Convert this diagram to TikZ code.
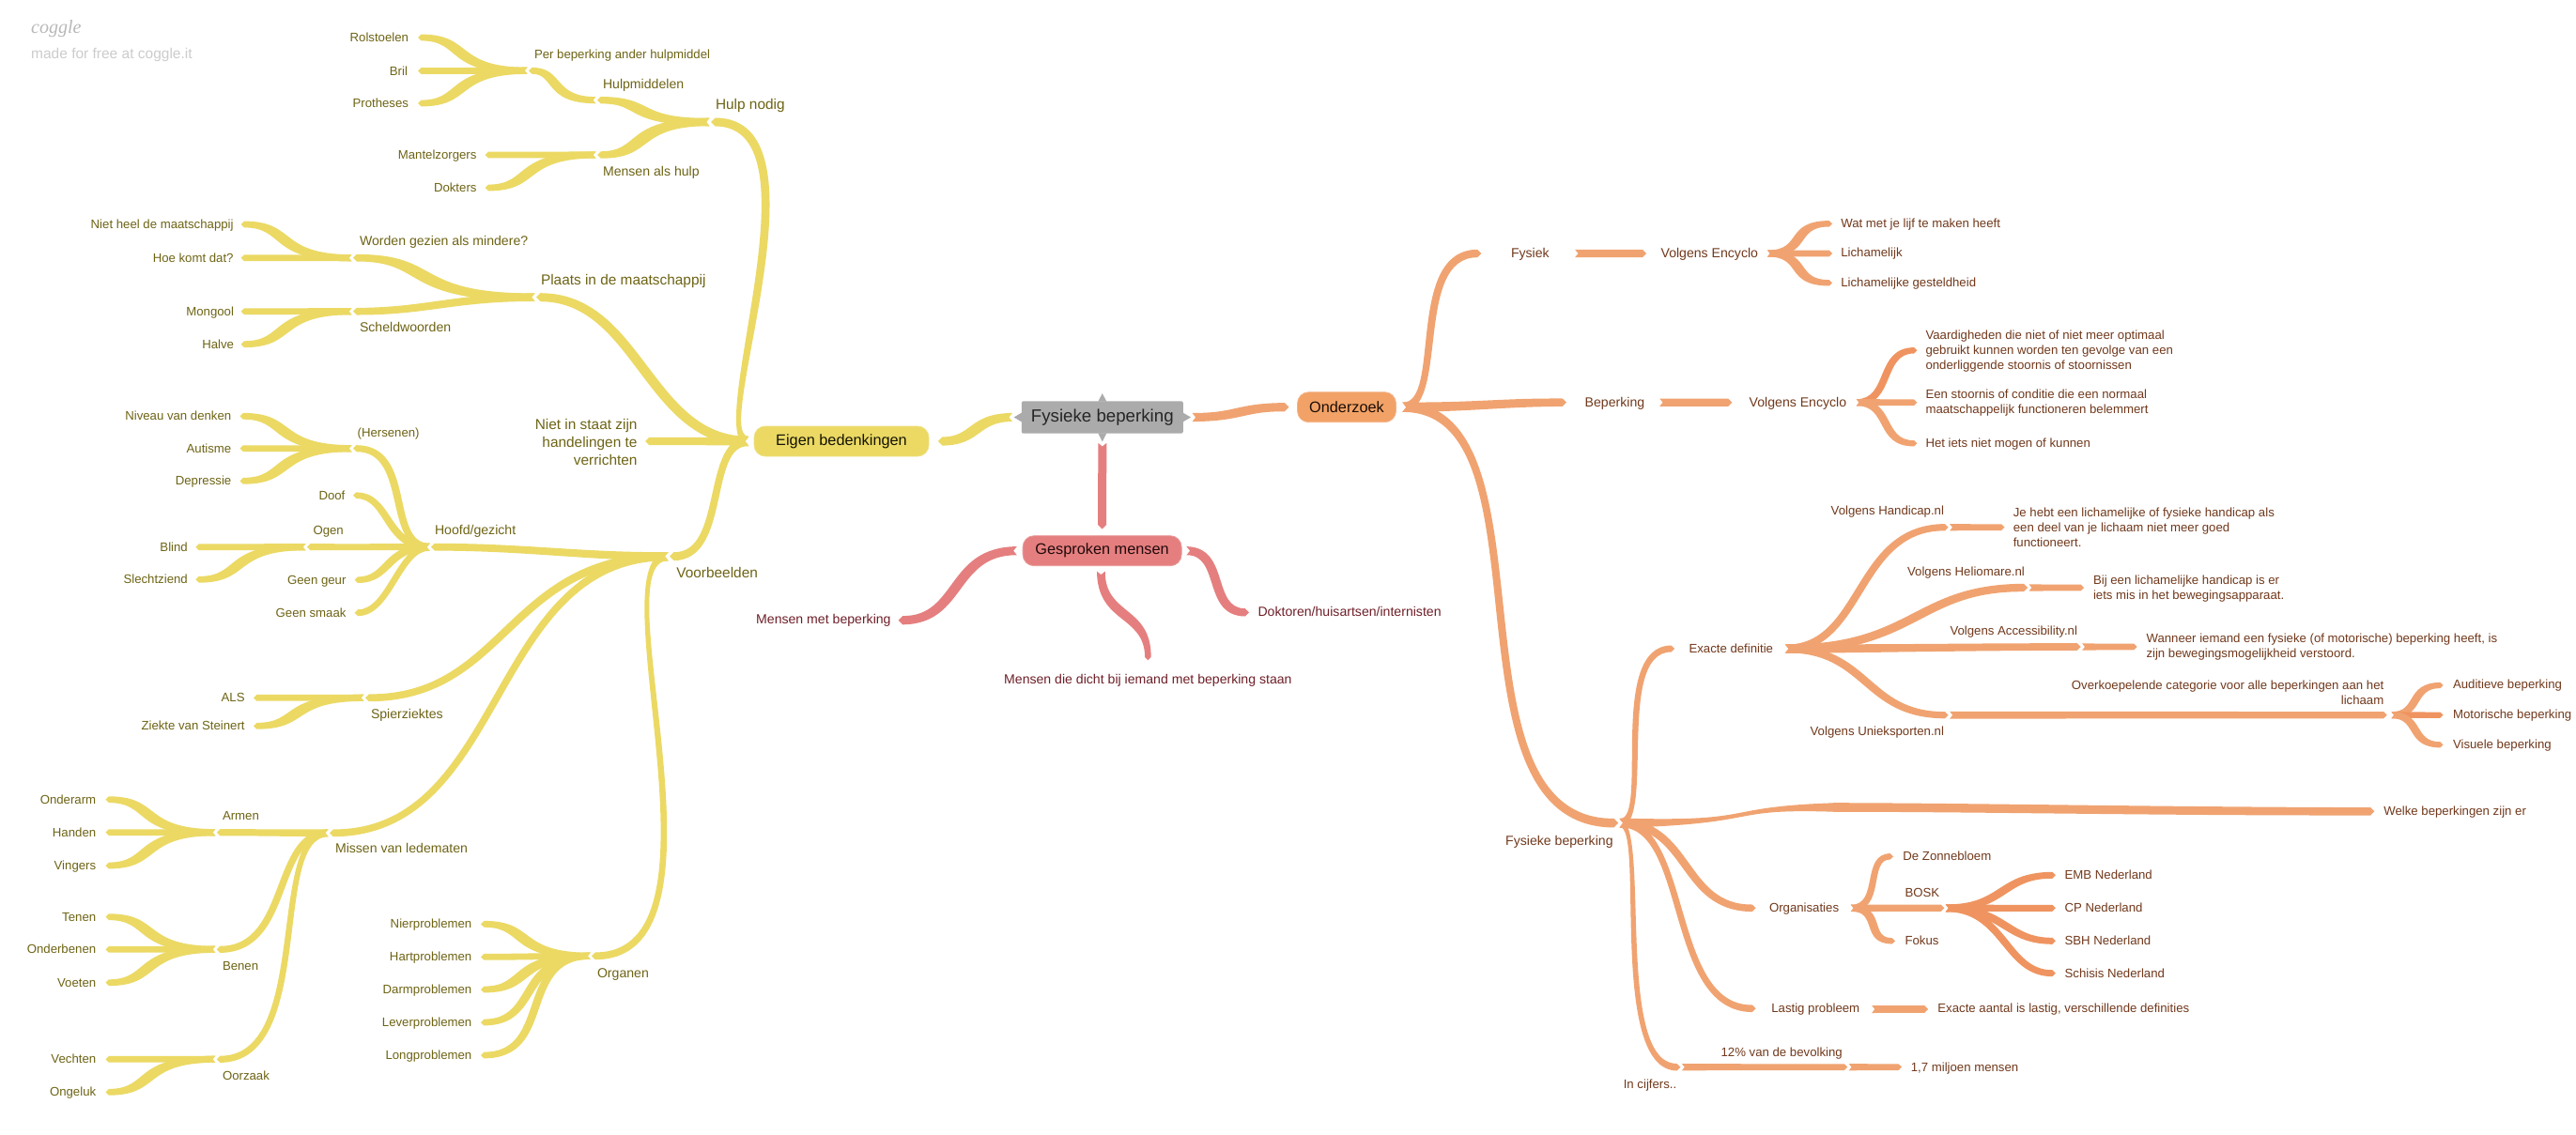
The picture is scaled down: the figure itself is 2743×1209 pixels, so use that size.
\documentclass[tikz,border=0pt]{standalone}
\usepackage{fontspec}
\setmainfont{Liberation Sans}
\newfontfamily\logofont{Liberation Serif}
\usetikzlibrary{calc}
\definecolor{ybr}{HTML}{EBD964}
\definecolor{ytx}{HTML}{6E6415}
\definecolor{obr}{HTML}{F0A371}
\definecolor{odk}{HTML}{EF9460}
\definecolor{opl}{HTML}{F2A266}
\definecolor{otx}{HTML}{71391C}
\definecolor{rbr}{HTML}{E57F7F}
\definecolor{rtx}{HTML}{6E1F28}
\definecolor{gbr}{HTML}{ABABAB}
\tikzset{
  base/.style={inner sep=0pt,outer sep=0pt,text height=.72em,text depth=.2em,yshift=-2pt},
  multi/.style={inner sep=0pt,outer sep=0pt,yshift=-1pt},
  fa/.style={font=\fontsize{13.2}{15.8}\selectfont},
  fb/.style={font=\fontsize{14.1}{17}\selectfont},
  fc/.style={font=\fontsize{15.4}{18.7}\selectfont},
  yt2/.style={base,fc,text=ytx},
  yt3/.style={base,fb,text=ytx},
  yt4/.style={base,fa,text=ytx},
  ym/.style={multi,fc,text=ytx,align=right},
  ot3/.style={base,fb,text=otx},
  ot4/.style={base,fa,text=otx},
  oml/.style={multi,fa,text=otx,align=left},
  omr/.style={multi,fa,text=otx,align=right},
  rt4/.style={base,fb,text=rtx},
  pillbox/.style={rounded corners=12pt,inner sep=0pt,minimum height=32pt,
    font=\fontsize{16.3}{19}\selectfont,line width=.8pt},
}
\makeatletter
\newcommand\getxy[3]{\pgfpointanchor{#1}{center}\edef\tmpx{\the\pgf@x}\edef\tmpy{\the\pgf@y}%
  \pgfmathsetmacro#2{\tmpx}\pgfmathsetmacro#3{\tmpy}}
\makeatother
% filled, tapered link: colour, half widths (start, middle, end)
\newcommand\linkcore[4]{%
  \pgfmathsetmacro\lkA{max(veclen(\cax-\ax,\cay-\ay),.01)}%
  \pgfmathsetmacro\lkB{max(veclen(\cbx-\cax,\cby-\cay),.01)}%
  \pgfmathsetmacro\lkC{max(veclen(\bx-\cbx,\by-\cby),.01)}%
  \pgfmathsetmacro\uax{(\cax-\ax)/\lkA}\pgfmathsetmacro\uay{(\cay-\ay)/\lkA}%
  \pgfmathsetmacro\ubx{(\cbx-\cax)/\lkB}\pgfmathsetmacro\uby{(\cby-\cay)/\lkB}%
  \pgfmathsetmacro\ucx{(\bx-\cbx)/\lkC}\pgfmathsetmacro\ucy{(\by-\cby)/\lkC}%
  \pgfmathsetmacro\dA{max(1+\uax*\ubx+\uay*\uby,.4)}%
  \pgfmathsetmacro\dB{max(1+\ubx*\ucx+\uby*\ucy,.4)}%
  \pgfmathsetmacro\ofax{#3*(-\uay-\uby)/\dA}\pgfmathsetmacro\ofay{#3*(\uax+\ubx)/\dA}%
  \pgfmathsetmacro\ofbx{#3*(-\uby-\ucy)/\dB}\pgfmathsetmacro\ofby{#3*(\ubx+\ucx)/\dB}%
  \pgfmathsetmacro\sx{\ax+1.5*\uax}\pgfmathsetmacro\sy{\ay+1.5*\uay}%
  \pgfmathsetmacro\ex{\bx-#4*\ucx}\pgfmathsetmacro\ey{\by-#4*\ucy}%
  \pgfmathsetmacro\nx{\sx+#2*.8*\uax}\pgfmathsetmacro\ny{\sy+#2*.8*\uay}%
  \pgfmathsetmacro\pax{\sx-#2*\uay}\pgfmathsetmacro\pay{\sy+#2*\uax}%
  \pgfmathsetmacro\qax{\sx+#2*\uay}\pgfmathsetmacro\qay{\sy-#2*\uax}%
  \pgfmathsetmacro\pbx{\ex-#4*\ucy}\pgfmathsetmacro\pby{\ey+#4*\ucx}%
  \pgfmathsetmacro\qbx{\ex+#4*\ucy}\pgfmathsetmacro\qby{\ey-#4*\ucx}%
  \pgfmathsetmacro\cpax{\cax+\ofax}\pgfmathsetmacro\cpay{\cay+\ofay}%
  \pgfmathsetmacro\cpbx{\cbx+\ofbx}\pgfmathsetmacro\cpby{\cby+\ofby}%
  \pgfmathsetmacro\cqax{\cax-\ofax}\pgfmathsetmacro\cqay{\cay-\ofay}%
  \pgfmathsetmacro\cqbx{\cbx-\ofbx}\pgfmathsetmacro\cqby{\cby-\ofby}%
  \fill[#1] (\pax pt,\pay pt) .. controls (\cpax pt,\cpay pt) and (\cpbx pt,\cpby pt) .. (\pbx pt,\pby pt)
    -- (\bx pt,\by pt) -- (\qbx pt,\qby pt)
    .. controls (\cqbx pt,\cqby pt) and (\cqax pt,\cqay pt) .. (\qax pt,\qay pt)
    -- (\nx pt,\ny pt) -- cycle;}
% horizontal tangents, automatic control points
\newcommand\fan[6]{\getxy{#2}{\ax}{\ay}\getxy{#3}{\bx}{\by}%
  \pgfmathsetmacro\rdy{abs(\by-\ay)/abs(\bx-\ax)}%
  \pgfmathsetmacro\tone{ifthenelse(\rdy<.12,.45,ifthenelse(\rdy<.45,.72,.8))}%
  \pgfmathsetmacro\ttwo{ifthenelse(\rdy<.12,.6,ifthenelse(\rdy<.45,.55,.45))}%
  \pgfmathsetmacro\cax{\ax+\tone*(\bx-\ax)}\pgfmathsetmacro\cbx{\ax+\ttwo*(\bx-\ax)}%
  \edef\cay{\ay}\edef\cby{\by}\linkcore{#1}{#4}{#5}{#6}}
% leaf fan
\newcommand\leaf[3]{\fan{#1}{#2}{#3}{3.6}{3.4}{3.4}}
% horizontal tangents, given control x
\newcommand\lnk[8]{\getxy{#2}{\ax}{\ay}\getxy{#3}{\bx}{\by}%
  \pgfmathsetmacro\cax{#7}\pgfmathsetmacro\cbx{#8}%
  \edef\cay{\ay}\edef\cby{\by}\linkcore{#1}{#4}{#5}{#6}}
% vertical tangents, given control y (picture value)
\newcommand\lnv[8]{\getxy{#2}{\ax}{\ay}\getxy{#3}{\bx}{\by}%
  \pgfmathsetmacro\cay{-(#7)}\pgfmathsetmacro\cby{-(#8)}%
  \edef\cax{\ax}\edef\cbx{\bx}\linkcore{#1}{#4}{#5}{#6}}
% point + its label
\newcommand\nd[8]{\coordinate (#1) at (#2,#3); \node[#7,anchor=#4] (#1t) at (#5,#6) {#8};}
\begin{document}
\begin{tikzpicture}[x=1pt,y=-1pt]
\fill[white] (0,0) rectangle (2743,1209);
\useasboundingbox (0,0) rectangle (2743,1209);

\node[anchor=west,inner sep=0pt,text=black!28,font=\logofont\itshape\fontsize{20}{24}\selectfont] (logo) at (33,31) {coggle};
\node[anchor=west,inner sep=0pt,text=black!20,font=\fontsize{15.5}{18}\selectfont] (made) at (33,58.5) {made for free at coggle.it};

% central nodes
\node[fill=gbr,rounded corners=2pt,minimum width=172pt,minimum height=34.4pt,inner sep=0pt,
  text=black!85,font=\fontsize{18.7}{22}\selectfont] (root) at (1173.8,444.5) {Fysieke beperking};
\fill[gbr] ($(root.north)+(-4.5,0.5)$) -- ($(root.north)+(0,-8)$) -- ($(root.north)+(4.5,0.5)$) -- cycle;
\fill[gbr] ($(root.south)+(-4.5,-0.5)$) -- ($(root.south)+(0,8.5)$) -- ($(root.south)+(4.5,-0.5)$) -- cycle;
\fill[gbr] ($(root.west)+(0.5,-5)$) -- ($(root.west)+(-8,0)$) -- ($(root.west)+(0.5,5)$) -- cycle;
\fill[gbr] ($(root.east)+(-0.5,-5)$) -- ($(root.east)+(8,0)$) -- ($(root.east)+(-0.5,5)$) -- cycle;
\node[pillbox,fill=ybr,draw=ybr!80!white,minimum width=186pt,text=black!80!ytx] (eigen) at (896,470) {Eigen bedenkingen};
\node[pillbox,fill=opl,draw=obr!80!white,minimum width=105pt,text=black!75!otx] (onder) at (1434,433.7) {Onderzoek};
\node[pillbox,fill=rbr,draw=rbr!80!white,minimum width=169pt,text=black!70!rtx] (gespr) at (1173.6,586.7) {Gesproken mensen};

\coordinate (rootL) at ($(root.west)+(-8,0)$);
\coordinate (rootR) at ($(root.east)+(8,0)$);
\coordinate (rootB) at ($(root.south)+(0,8.5)$);
\coordinate (eigenL) at ($(eigen.west)+(-4,0)$);
\coordinate (eigenR) at ($(eigen.east)+(9.5,0)$);
\coordinate (onderL) at ($(onder.west)+(-8.6,0)$);
\coordinate (onderR) at ($(onder.east)+(5,0)$);
\coordinate (gesprT) at ($(gespr.north)+(0,-6.7)$);
\coordinate (gesprL) at ($(gespr.west)+(-4.4,0)$);
\coordinate (gesprR) at ($(gespr.east)+(3.4,0)$);
\coordinate (gesprB) at ($(gespr.south)+(-1.2,4)$);

% yellow labels
\nd{hulp}{757}{130}{west}{762}{112}{yt2}{Hulp nodig}
\nd{hmid}{636}{106.7}{west}{642}{90}{yt3}{Hulpmiddelen}
\nd{perb}{563}{75.3}{west}{569}{58.3}{yt4}{Per beperking ander hulpmiddel}
\nd{rols}{445}{40}{east}{435}{40}{yt4}{Rolstoelen}
\nd{bril}{445}{75.5}{east}{434}{75.5}{yt4}{Bril}
\nd{prot}{445}{110}{east}{435}{110}{yt4}{Protheses}
\nd{mals}{636}{165}{west}{642}{183}{yt3}{Mensen als hulp}
\nd{mant}{516.6}{165}{east}{507.5}{165}{yt4}{Mantelzorgers}
\nd{dokt}{516.6}{200}{east}{507.5}{200}{yt4}{Dokters}
\nd{plts}{571}{316.7}{west}{576}{299}{yt2}{Plaats in de maatschappij}
\nd{word}{376}{274.7}{west}{383}{257}{yt3}{Worden gezien als mindere?}
\nd{nhm}{256.6}{239}{east}{248.6}{239}{yt4}{Niet heel de maatschappij}
\nd{hkd}{256.6}{274.7}{east}{248.6}{274.7}{yt4}{Hoe komt dat?}
\nd{sche}{376}{331.7}{west}{383}{349.3}{yt3}{Scheldwoorden}
\nd{mong}{256.6}{331.7}{east}{249}{331.7}{yt4}{Mongool}
\nd{halv}{256.6}{366.7}{east}{249}{366.7}{yt4}{Halve}
\nd{nsta}{687}{470}{east}{678.5}{470}{ym}{Niet in staat zijn\\handelingen te\\verrichten}
\nd{voor}{713}{592.7}{west}{720.4}{611}{yt2}{Voorbeelden}
\nd{hoof}{459}{582.7}{west}{463}{565}{yt3}{Hoofd/gezicht}
\nd{hers}{376}{477.7}{west}{380.6}{460.7}{yt4}{(Hersenen)}
\nd{nivd}{255.5}{443.3}{east}{246.3}{443.3}{yt4}{Niveau van denken}
\nd{auti}{255.5}{477.7}{east}{246.3}{477.7}{yt4}{Autisme}
\nd{depr}{255.5}{512.3}{east}{246.3}{512.3}{yt4}{Depressie}
\nd{doof}{376}{527.7}{east}{367.4}{527.7}{yt4}{Doof}
\nd{ogen}{327}{582.7}{west}{333.5}{565.3}{yt4}{Ogen}
\nd{geur}{377.7}{617.7}{east}{368.5}{617.7}{yt4}{Geen geur}
\nd{smaa}{377.7}{652.7}{east}{368.5}{652.7}{yt4}{Geen smaak}
\nd{blin}{208.4}{582.7}{east}{199.8}{582.7}{yt4}{Blind}
\nd{slec}{208.4}{617.3}{east}{199.8}{617.3}{yt4}{Slechtziend}
\nd{spie}{389}{743.3}{west}{395}{761}{yt3}{Spierziektes}
\nd{als}{270}{743.3}{east}{260.6}{743.3}{yt4}{ALS}
\nd{stei}{270}{773.3}{east}{260.6}{773.3}{yt4}{Ziekte van Steinert}
\nd{miss}{351}{887.3}{west}{357}{904.3}{yt3}{Missen van ledematen}
\nd{arme}{230.8}{886.7}{west}{237}{869.3}{yt4}{Armen}
\nd{bene}{230.8}{1011.3}{west}{237}{1029}{yt4}{Benen}
\nd{oorz}{230.8}{1128.3}{west}{237}{1146}{yt4}{Oorzaak}
\nd{onda}{112.5}{851.7}{east}{102.2}{851.7}{yt4}{Onderarm}
\nd{hand}{112.5}{886.7}{east}{102.2}{886.7}{yt4}{Handen}
\nd{ving}{112.5}{922}{east}{102.2}{922}{yt4}{Vingers}
\nd{tene}{112.5}{976.7}{east}{102.2}{976.7}{yt4}{Tenen}
\nd{ondb}{112.5}{1011.3}{east}{102.2}{1011.3}{yt4}{Onderbenen}
\nd{voet}{112.5}{1046.7}{east}{102.2}{1046.7}{yt4}{Voeten}
\nd{vech}{112.5}{1128.3}{east}{102.2}{1128.3}{yt4}{Vechten}
\nd{onge}{112.5}{1163.3}{east}{102.2}{1163.3}{yt4}{Ongeluk}
\nd{orga}{630}{1018.3}{west}{636}{1037}{yt3}{Organen}
\nd{nier}{512}{984.3}{east}{502.3}{984.3}{yt4}{Nierproblemen}
\nd{hart}{512}{1019.3}{east}{502.3}{1019.3}{yt4}{Hartproblemen}
\nd{darm}{512}{1054}{east}{502.3}{1054}{yt4}{Darmproblemen}
\nd{leve}{512}{1089}{east}{502.3}{1089}{yt4}{Leverproblemen}
\nd{long}{512}{1124}{east}{502.3}{1124}{yt4}{Longproblemen}

% red labels
\nd{mmet}{956.6}{660.7}{east}{948.6}{660}{rt4}{Mensen met beperking}
\nd{doct}{1330}{652.3}{west}{1339.5}{652}{rt4}{Doktoren/huisartsen/internisten}
\nd{dich}{1222.4}{703.3}{center}{1222.4}{724.3}{rt4}{Mensen die dicht bij iemand met beperking staan}

% orange labels
\nd{fsk}{1577.4}{270}{west}{1609}{270}{ot3}{Fysiek}
\coordinate (ve1a) at (1675.6,270);
\nd{ve1}{1753}{270}{west}{1768.6}{270}{ot3}{Volgens Encyclo}
\coordinate (ve1b) at (1880.5,270);
\nd{wat}{1951}{238.3}{west}{1960.3}{238.3}{ot4}{Wat met je lijf te maken heeft}
\nd{lich}{1951}{270}{west}{1960.3}{269.3}{ot4}{Lichamelijk}
\nd{gest}{1951}{301.3}{west}{1960.3}{301.3}{ot4}{Lichamelijke gesteldheid}
\nd{bep}{1668}{428.7}{west}{1687.7}{428.7}{ot3}{Beperking}
\coordinate (ve2a) at (1765.7,428.7);
\nd{ve2}{1844.4}{428.7}{west}{1862.7}{428.7}{ot3}{Volgens Encyclo}
\coordinate (ve2b) at (1975.3,428.7);
\nd{vaar}{2041.3}{373.3}{west}{2050.5}{373.3}{oml}{Vaardigheden die niet of niet meer optimaal\\gebruikt kunnen worden ten gevolge van een\\onderliggende stoornis of stoornissen}
\nd{stoo}{2041.3}{428.7}{west}{2050.5}{428}{oml}{Een stoornis of conditie die een normaal\\maatschappelijk functioneren belemmert}
\nd{iets}{2041.3}{472.3}{west}{2050.5}{472.3}{ot4}{Het iets niet mogen of kunnen}
\nd{fb}{1723.2}{876.7}{east}{1717.6}{895.7}{ot3}{Fysieke beperking}
\nd{exa}{1783.2}{691}{west}{1798.5}{691}{ot4}{Exacte definitie}
\coordinate (exaR) at (1899.6,691);
\nd{vhan}{2074.6}{561.7}{east}{2070}{544}{ot4}{Volgens Handicap.nl}
\nd{jeh}{2134.5}{561.7}{west}{2143.8}{561}{oml}{Je hebt een lichamelijke of fysieke handicap als\\een deel van je lichaam niet meer goed\\functioneert.}
\nd{vhel}{2159}{626}{east}{2155.8}{609}{ot4}{Volgens Heliomare.nl}
\nd{bij}{2219}{626}{west}{2229}{625.7}{oml}{Bij een lichamelijke handicap is er\\iets mis in het bewegingsapparaat.}
\nd{vacc}{2215.6}{689}{east}{2212}{671.7}{ot4}{Volgens Accessibility.nl}
\nd{wann}{2275.5}{689}{west}{2285.5}{688}{oml}{Wanneer iemand een fysieke (of motorische) beperking heeft, is\\zijn bewegingsmogelijkheid verstoord.}
\nd{vuni}{2074.6}{761.7}{east}{2070}{779.3}{ot4}{Volgens Unieksporten.nl}
\nd{over}{2541.7}{761.7}{east}{2538.3}{737}{omr}{Overkoepelende categorie voor alle beperkingen aan het\\lichaam}
\coordinate (overR) at (2545,761.7);
\nd{audi}{2601.5}{730}{west}{2612}{729.3}{ot4}{Auditieve beperking}
\nd{moto}{2601.5}{761.7}{west}{2612}{761.3}{ot4}{Motorische beperking}
\nd{visu}{2601.5}{793.3}{west}{2612}{793}{ot4}{Visuele beperking}
\coordinate (way) at (1950,860);
\coordinate (wayb) at (1960,860);
\nd{welk}{2528.3}{864.3}{west}{2538.3}{864.3}{ot4}{Welke beperkingen zijn er}
\nd{orgs}{1869.6}{967.3}{west}{1884}{967.3}{ot4}{Organisaties}
\coordinate (orgR) at (1969.3,967.3);
\nd{zonn}{2016}{912.3}{west}{2026.4}{912.3}{ot4}{De Zonnebloem}
\nd{bosk}{2070.3}{967.3}{west}{2028.5}{950.7}{ot4}{BOSK}
\nd{foku}{2018}{1002.3}{west}{2028.5}{1002.3}{ot4}{Fokus}
\nd{emb}{2188.8}{932.3}{west}{2198.6}{932.3}{ot4}{EMB Nederland}
\nd{cpn}{2188.8}{967.3}{west}{2198.6}{967.3}{ot4}{CP Nederland}
\nd{sbh}{2188.8}{1002.3}{west}{2198.6}{1002.3}{ot4}{SBH Nederland}
\nd{schi}{2188.8}{1036.7}{west}{2198.6}{1036.7}{ot4}{Schisis Nederland}
\nd{last}{1869.6}{1074.3}{west}{1886.3}{1074.3}{ot4}{Lastig probleem}
\coordinate (lastR) at (1991.6,1075);
\nd{aant}{2053}{1075}{west}{2063.4}{1074.3}{ot4}{Exacte aantal is lastig, verschillende definities}
\nd{cijf}{1789.4}{1136.7}{west}{1728.8}{1155}{ot4}{In cijfers..}
\nd{pct}{1967.2}{1136.7}{west}{1832.6}{1120.7}{ot4}{12\% van de bevolking}
\nd{milj}{2025}{1136.7}{west}{2034.8}{1136.7}{ot4}{1,7 miljoen mensen}

% root links
\lnk{ybr}{rootL}{eigenR}{4.6}{4.2}{4.6}{1036}{1040}
\lnk{obr}{rootR}{onderL}{4.6}{4.2}{4.6}{1320}{1320}
\lnv{rbr}{rootB}{gesprT}{4.5}{4.5}{4.5}{495}{535}
\lnk{rbr}{gesprL}{mmet}{4.6}{4}{4.6}{1012}{1024}
\lnk{rbr}{gesprR}{doct}{4.6}{3.8}{4.2}{1305}{1285}
\lnv{rbr}{gesprB}{dich}{4.4}{3.8}{3.2}{660}{650}

% yellow links
\lnk{ybr}{eigenL}{hulp}{5.2}{4.4}{4.5}{750}{885}
\lnk{ybr}{eigenL}{plts}{5.2}{4.4}{4.5}{690}{680}
\fan{ybr}{eigenL}{nsta}{4.4}{4.2}{4.2}
\lnk{ybr}{eigenL}{voor}{5.2}{3.4}{4.5}{750}{775}
\fan{ybr}{hulp}{hmid}{4.3}{4}{3.7}
\fan{ybr}{hulp}{mals}{4.3}{4}{3.7}
\fan{ybr}{hmid}{perb}{3.6}{3.3}{3.4}
\leaf{ybr}{perb}{rols}
\leaf{ybr}{perb}{bril}
\leaf{ybr}{perb}{prot}
\leaf{ybr}{mals}{mant}
\leaf{ybr}{mals}{dokt}
\fan{ybr}{plts}{word}{4.3}{4}{3.8}
\fan{ybr}{plts}{sche}{4.3}{4}{3.8}
\leaf{ybr}{word}{nhm}
\leaf{ybr}{word}{hkd}
\leaf{ybr}{sche}{mong}
\leaf{ybr}{sche}{halv}
\lnk{ybr}{voor}{hoof}{4.6}{3.9}{3.9}{620}{560}
\lnk{ybr}{voor}{spie}{4.6}{3.2}{3.9}{540}{540}
\lnk{ybr}{voor}{miss}{4.6}{3.0}{3.9}{520}{540}
\lnk{ybr}{voor}{orga}{4.6}{3.3}{3.9}{635}{790}
\lnk{ybr}{hoof}{hers}{4}{3.3}{3.5}{410}{440}
\lnk{ybr}{hoof}{doof}{4}{3.1}{3.3}{410}{415}
\fan{ybr}{hoof}{ogen}{3.7}{3.4}{3.5}
\lnk{ybr}{hoof}{geur}{4}{3.1}{3.3}{410}{415}
\lnk{ybr}{hoof}{smaa}{4}{3.1}{3.5}{425}{415}
\leaf{ybr}{ogen}{blin}
\fan{ybr}{ogen}{slec}{3.6}{3.3}{3.4}
\leaf{ybr}{hers}{nivd}
\leaf{ybr}{hers}{auti}
\leaf{ybr}{hers}{depr}
\leaf{ybr}{spie}{als}
\leaf{ybr}{spie}{stei}
\fan{ybr}{miss}{arme}{3.9}{3.6}{3.6}
\lnk{ybr}{miss}{bene}{4}{3.1}{3.6}{290}{310}
\lnk{ybr}{miss}{oorz}{4}{3.1}{3.6}{285}{335}
\leaf{ybr}{arme}{onda}
\leaf{ybr}{arme}{hand}
\leaf{ybr}{arme}{ving}
\leaf{ybr}{bene}{tene}
\leaf{ybr}{bene}{ondb}
\leaf{ybr}{bene}{voet}
\leaf{ybr}{oorz}{vech}
\leaf{ybr}{oorz}{onge}
\leaf{ybr}{orga}{nier}
\leaf{ybr}{orga}{hart}
\leaf{ybr}{orga}{darm}
\lnk{ybr}{orga}{leve}{3.6}{3.1}{3.4}{550}{575}
\lnk{ybr}{orga}{long}{3.6}{3.1}{3.4}{550}{590}

% orange links
\lnk{obr}{onderR}{fsk}{5}{3.6}{4.2}{1540}{1500}
\fan{obr}{onderR}{bep}{5.2}{4.6}{4.2}
\lnk{obr}{onderR}{fb}{5.2}{3.6}{4.8}{1660}{1530}
\fan{obr}{ve1a}{ve1}{4.2}{4.1}{4.1}
\lnk{obr}{ve1b}{wat}{3.6}{3}{3.2}{1925}{1905}
\leaf{obr}{ve1b}{lich}
\lnk{obr}{ve1b}{gest}{3.6}{3}{3.2}{1925}{1905}
\fan{obr}{ve2a}{ve2}{4.2}{4.1}{4.1}
\lnk{odk}{ve2b}{vaar}{3.6}{3}{3.2}{2015}{2000}
\leaf{obr}{ve2b}{stoo}
\lnk{obr}{ve2b}{iets}{3.6}{3}{3.2}{2015}{2000}
\lnk{obr}{fb}{exa}{4.6}{3.2}{3.5}{1760}{1715}
\lnk{obr}{exaR}{vhan}{4.4}{3.2}{3.6}{1985}{1975}
\lnk{obr}{exaR}{vhel}{4.6}{3.6}{4.2}{2040}{2040}
\lnk{obr}{exaR}{vacc}{5}{4}{3.8}{2000}{2100}
\lnk{obr}{exaR}{vuni}{4.4}{3.2}{3.6}{1990}{1985}
\leaf{obr}{vhan}{jeh}
\leaf{obr}{vhel}{bij}
\leaf{obr}{vacc}{wann}
\fan{obr}{vuni}{over}{3.9}{3.7}{3.7}
\lnk{obr}{overR}{audi}{3.6}{2.8}{3.1}{2578}{2565}
\fan{odk}{overR}{moto}{3.4}{3.2}{3.2}
\lnk{obr}{overR}{visu}{3.6}{2.8}{3.1}{2578}{2565}
\lnk{obr}{fb}{wayb}{5.2}{4.8}{4.8}{1880}{1830}
\lnk{obr}{way}{welk}{4.8}{4.6}{4.2}{2100}{2300}
\lnk{obr}{fb}{orgs}{4.6}{3.2}{3.8}{1800}{1790}
\lnk{obr}{fb}{last}{4.6}{3}{3.8}{1800}{1775}
\lnk{obr}{fb}{cijf}{4.4}{3}{3.8}{1755}{1715}
\leaf{obr}{cijf}{pct}
\leaf{obr}{pct}{milj}
\lnk{obr}{orgR}{zonn}{3.6}{2.8}{3.2}{2005}{1985}
\fan{obr}{orgR}{bosk}{3.8}{3.6}{3.6}
\lnk{obr}{orgR}{foku}{3.6}{2.8}{3.2}{2005}{1985}
\lnk{odk}{bosk}{emb}{4}{3.2}{3.5}{2135}{2130}
\fan{odk}{bosk}{cpn}{3.8}{3.5}{3.5}
\lnk{odk}{bosk}{sbh}{4}{3.2}{3.5}{2135}{2135}
\lnk{odk}{bosk}{schi}{4}{3.1}{3.5}{2135}{2135}
\fan{obr}{lastR}{aant}{4}{3.9}{3.8}
\end{tikzpicture}
\end{document}
